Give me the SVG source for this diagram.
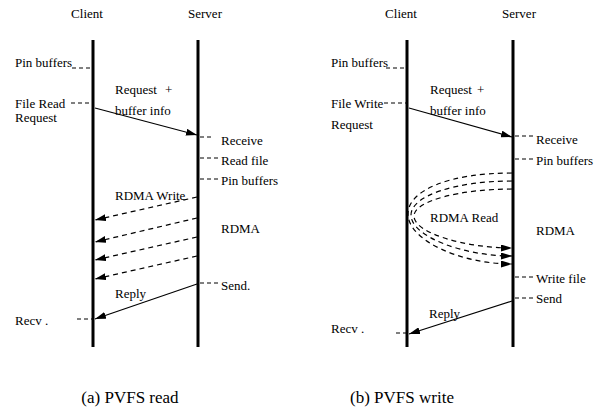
<svg xmlns="http://www.w3.org/2000/svg" width="602" height="416" viewBox="0 0 602 416" font-family="Liberation Serif, Times New Roman, DejaVu Serif, serif" font-size="13">
<style>
text{font-family:'Liberation Serif','Times New Roman','DejaVu Serif',serif;font-size:13px;fill:#000}
.cap{font-size:17px}
.life{stroke:#000;stroke-width:3;fill:none}
.tick{stroke:#000;stroke-width:1;stroke-dasharray:4 3;fill:none}
.msg{stroke:#000;stroke-width:1.2;fill:none}
.dmsg{stroke:#000;stroke-width:1.2;stroke-dasharray:5 4;fill:none}
.mid{text-anchor:middle}
</style>
<defs>
<marker id="ah" viewBox="0 0 11 7" refX="11" refY="3.5" markerWidth="11" markerHeight="7" orient="auto" markerUnits="userSpaceOnUse"><path d="M0,0 L11,3.5 L0,7 z" fill="#000"/></marker>
</defs>
<rect width="602" height="416" fill="#fff"/>

<!-- (a) PVFS read -->
<g id="a-client">
<line class="life" x1="93" y1="40" x2="93" y2="347"/>
<text class="mid" x="87" y="18">Client</text>
</g>
<g id="a-server">
<line class="life" x1="198" y1="40" x2="198" y2="347"/>
<text class="mid" x="205" y="18">Server</text>
</g>
<g id="a-labels">
<text x="15" y="67">Pin buffers</text>
<text x="15" y="108">File Read</text>
<text x="15" y="122">Request</text>
<text x="115" y="94">Request <tspan x="165">+</tspan></text>
<text x="115" y="115">buffer info</text>
<text x="221" y="145">Receive</text>
<text x="221" y="165">Read file</text>
<text x="221" y="185">Pin buffers</text>
<text x="115" y="200">RDMA Write</text>
<text x="221" y="233">RDMA</text>
<text x="221" y="290">Send.</text>
<text x="115" y="298">Reply</text>
<text x="15" y="325">Recv .</text>
<text class="cap mid" x="130" y="403">(a) PVFS read</text>
</g>

<!-- (b) PVFS write -->
<g id="b-client">
<line class="life" x1="407" y1="40" x2="407" y2="347"/>
<text class="mid" x="401" y="18">Client</text>
</g>
<g id="b-server">
<line class="life" x1="513" y1="40" x2="513" y2="347"/>
<text class="mid" x="519" y="18">Server</text>
</g>
<g id="b-labels">
<text x="331" y="67">Pin buffers</text>
<text x="331" y="108">File Write</text>
<text x="331" y="129">Request</text>
<text x="430" y="94">Request <tspan x="477">+</tspan></text>
<text x="430" y="115">buffer info</text>
<text x="536" y="144">Receive</text>
<text x="536" y="165">Pin buffers</text>
<text x="430" y="222">RDMA Read</text>
<text x="536" y="235">RDMA</text>
<text x="536" y="283">Write file</text>
<text x="536" y="303">Send</text>
<text x="429" y="318">Reply</text>
<text x="331" y="333">Recv .</text>
<text class="cap mid" x="402" y="403">(b) PVFS write</text>
</g>

<g id="connectors">
<line class="tick" x1="72" y1="68" x2="92" y2="68"/>
<line class="tick" x1="71" y1="103" x2="92" y2="103"/>
<line class="tick" x1="200" y1="137" x2="214" y2="137"/>
<line class="tick" x1="200" y1="158" x2="220" y2="158"/>
<line class="tick" x1="200" y1="179" x2="220" y2="179"/>
<line class="tick" x1="200" y1="283" x2="218" y2="283"/>
<line class="tick" x1="77" y1="319" x2="92" y2="319"/>
<line class="msg" x1="95" y1="108" x2="197" y2="135" marker-end="url(#ah)"/>
<line class="dmsg" x1="197" y1="197" x2="95" y2="220" marker-end="url(#ah)"/>
<line class="dmsg" x1="197" y1="218" x2="95" y2="242" marker-end="url(#ah)"/>
<line class="dmsg" x1="197" y1="237" x2="95" y2="260" marker-end="url(#ah)"/>
<line class="dmsg" x1="197" y1="256" x2="95" y2="279" marker-end="url(#ah)"/>
<line class="msg" x1="197" y1="284" x2="95" y2="319" marker-end="url(#ah)"/>

<line class="tick" x1="386" y1="68" x2="406" y2="68"/>
<line class="tick" x1="384" y1="103" x2="406" y2="103"/>
<line class="tick" x1="515" y1="136" x2="535" y2="136"/>
<line class="tick" x1="515" y1="159" x2="535" y2="159"/>
<line class="tick" x1="515" y1="277" x2="535" y2="277"/>
<line class="tick" x1="515" y1="298" x2="535" y2="298"/>
<line class="tick" x1="396" y1="333" x2="406" y2="333"/>
<line class="msg" x1="409" y1="108" x2="512" y2="137" marker-end="url(#ah)"/>
<path class="dmsg" d="M512,173 C450,173 408,190 408,214 C408,240 460,264 512,264" marker-end="url(#ah)"/>
<path class="dmsg" d="M512,181 C455,181 411,196 411,215 C411,236 462,256 512,256" marker-end="url(#ah)"/>
<path class="dmsg" d="M512,189 C460,189 414,201 414,216 C414,233 465,248 512,248" marker-end="url(#ah)"/>
<line class="msg" x1="512" y1="301" x2="409" y2="334" marker-end="url(#ah)"/>
</g>
</svg>
